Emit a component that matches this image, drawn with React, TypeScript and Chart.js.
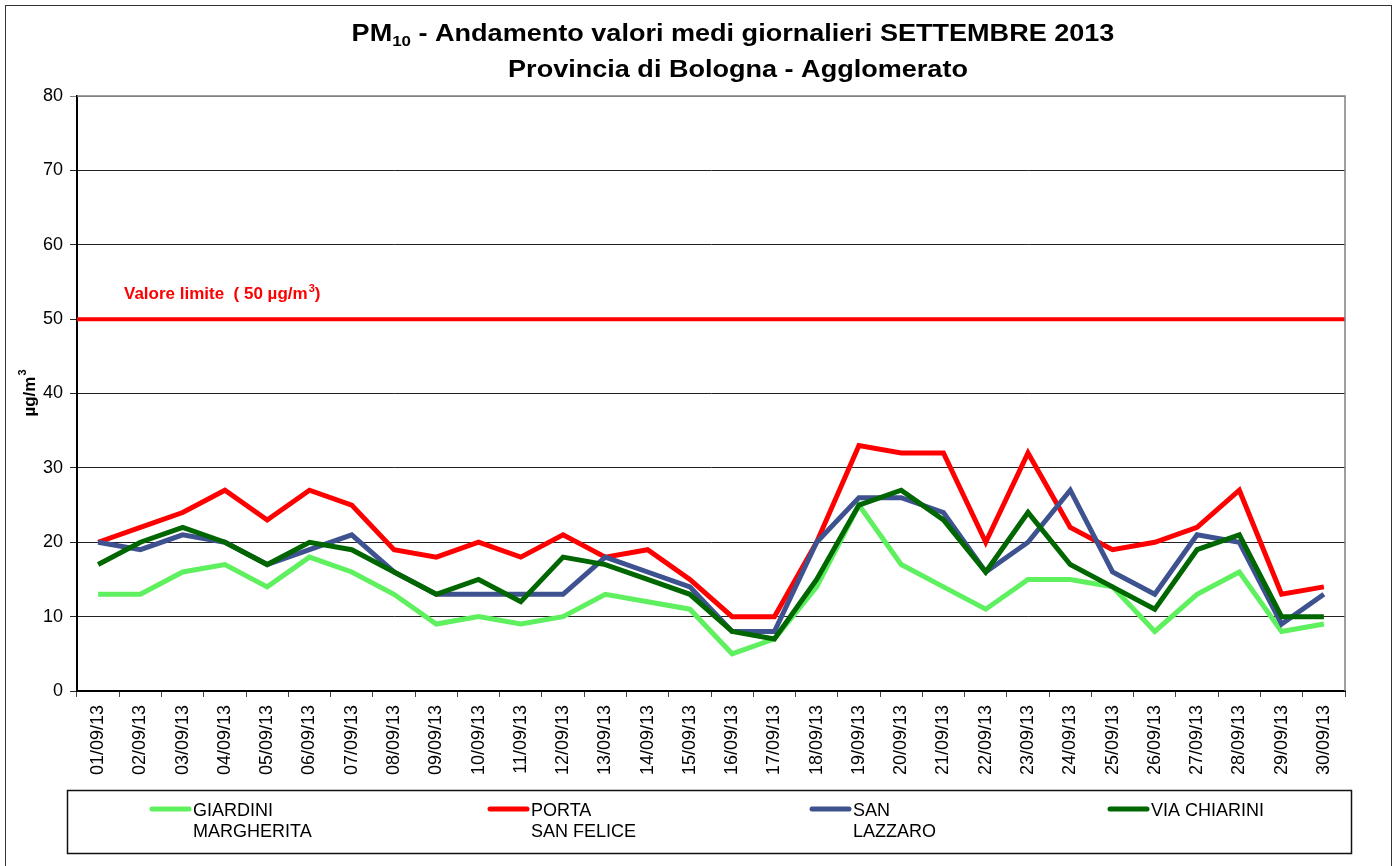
import React, { useEffect, useRef } from 'react';
import { Chart, registerables } from 'chart.js';

Chart.register(...registerables);

// ---------- DATA ----------
const DAYS = [
  '01/09/13', '02/09/13', '03/09/13', '04/09/13', '05/09/13', '06/09/13', '07/09/13', '08/09/13', '09/09/13', '10/09/13',
  '11/09/13', '12/09/13', '13/09/13', '14/09/13', '15/09/13', '16/09/13', '17/09/13', '18/09/13', '19/09/13', '20/09/13',
  '21/09/13', '22/09/13', '23/09/13', '24/09/13', '25/09/13', '26/09/13', '27/09/13', '28/09/13', '29/09/13', '30/09/13',
];
const GIARDINI_MARGHERITA = [13, 13, 16, 17, 14, 18, 16, 13, 9, 10, 9, 10, 13, 12, 11, 5, 7, 14, 25, 17, 14, 11, 15, 15, 14, 8, 13, 16, 8, 9];
const PORTA_SAN_FELICE = [20, 22, 24, 27, 23, 27, 25, 19, 18, 20, 18, 21, 18, 19, 15, 10, 10, 20, 33, 32, 32, 20, 32, 22, 19, 20, 22, 27, 13, 14];
const SAN_LAZZARO = [20, 19, 21, 20, 17, 19, 21, 16, 13, 13, 13, 13, 18, 16, 14, 8, 8, 20, 26, 26, 24, 16, 20, 27, 16, 13, 21, 20, 9, 13];
const VIA_CHIARINI = [17, 20, 22, 20, 17, 20, 19, 16, 13, 15, 12, 18, 17, 15, 13, 8, 7, 15, 25, 27, 23, 16, 24, 17, 14, 11, 19, 21, 10, 10];

const SERIES_LABELS = [['GIARDINI', 'MARGHERITA'], ['PORTA', 'SAN FELICE'], ['SAN', 'LAZZARO'], ['VIA CHIARINI']];
const SERIES_VALUES = [GIARDINI_MARGHERITA, PORTA_SAN_FELICE, SAN_LAZZARO, VIA_CHIARINI];
const SERIES_COLORS = ['#5EF05E', '#FF0000', '#3F5290', '#006600'];

const Y_MIN = 0;
const Y_MAX = 80;
const Y_STEP = 10;
const LIMIT_VALUE = 50;
const LIMIT_TEXT = 'Valore limite  ( 50 µg/m';
const TITLE_1_PREFIX = 'PM';
const TITLE_1_SUB = '10';
const TITLE_1_REST = ' - Andamento valori medi giornalieri SETTEMBRE 2013';
const TITLE_2 = 'Provincia di Bologna - Agglomerato';
const Y_TITLE = 'µg/m';

const FONT = '"Liberation Sans", Arial, Helvetica, sans-serif';

// legend column positions (layout)
const LEGEND_X = [150, 488, 810, 1108];
const TITLE_STRETCH = 1.127;

const decorPlugin = {
  id: 'decor',
  beforeDatasetsDraw(chart: any) {
    const ctx = chart.ctx;
    const { left, right } = chart.chartArea;
    const y = chart.scales.y.getPixelForValue(LIMIT_VALUE);
    ctx.save();
    ctx.strokeStyle = '#FF0000';
    ctx.lineWidth = 4;
    ctx.beginPath();
    ctx.moveTo(left, y);
    ctx.lineTo(right, y);
    ctx.stroke();
    // label
    ctx.fillStyle = '#FF0000';
    ctx.font = `bold 17px ${FONT}`;
    ctx.textBaseline = 'alphabetic';
    ctx.textAlign = 'left';
    const lx = 124;
    const ly = y - 20;
    ctx.fillText(LIMIT_TEXT, lx, ly);
    let w = ctx.measureText(LIMIT_TEXT).width;
    ctx.font = `bold 11px ${FONT}`;
    ctx.fillText('3', lx + w + 1, ly - 7);
    w += ctx.measureText('3').width + 1;
    ctx.font = `bold 17px ${FONT}`;
    ctx.fillText(')', lx + w, ly);
    ctx.restore();
  },
  afterDraw(chart: any) {
    const ctx = chart.ctx;
    const { left, right, top, bottom } = chart.chartArea;
    ctx.save();

    // outer border
    ctx.strokeStyle = '#333';
    ctx.lineWidth = 1;
    ctx.strokeRect(5.5, 5.5, 1386, 900);

    // plot top/right border
    ctx.strokeStyle = '#808080';
    ctx.lineWidth = 1.5;
    ctx.beginPath();
    ctx.moveTo(left, top);
    ctx.lineTo(right, top);
    ctx.lineTo(right, bottom);
    ctx.stroke();

    // title (slightly stretched horizontally like the original)
    ctx.fillStyle = '#000';
    ctx.textBaseline = 'alphabetic';
    ctx.textAlign = 'left';
    ctx.font = `bold 24px ${FONT}`;
    const wPre = ctx.measureText(TITLE_1_PREFIX).width;
    const wRest = ctx.measureText(TITLE_1_REST).width;
    const w2 = ctx.measureText(TITLE_2).width;
    ctx.font = `bold 15px ${FONT}`;
    const wSub = ctx.measureText(TITLE_1_SUB).width;
    const total = wPre + wSub + wRest;

    ctx.save();
    ctx.translate(733, 0);
    ctx.scale(TITLE_STRETCH, 1);
    let x = -total / 2;
    ctx.font = `bold 24px ${FONT}`;
    ctx.fillText(TITLE_1_PREFIX, x, 41);
    x += wPre;
    ctx.font = `bold 15px ${FONT}`;
    ctx.fillText(TITLE_1_SUB, x, 46);
    x += wSub;
    ctx.font = `bold 24px ${FONT}`;
    ctx.fillText(TITLE_1_REST, x, 41);
    ctx.restore();

    ctx.save();
    ctx.translate(738, 0);
    ctx.scale(TITLE_STRETCH, 1);
    ctx.font = `bold 24px ${FONT}`;
    ctx.fillText(TITLE_2, -w2 / 2, 77);
    ctx.restore();

    // y title
    ctx.save();
    ctx.translate(30, (top + bottom) / 2);
    ctx.rotate(-Math.PI / 2);
    ctx.font = `bold 17px ${FONT}`;
    const wy = ctx.measureText(Y_TITLE).width;
    ctx.font = `bold 11px ${FONT}`;
    const w3 = ctx.measureText('3').width;
    const sx = -(wy + w3) / 2;
    ctx.textAlign = 'left';
    ctx.textBaseline = 'middle';
    ctx.font = `bold 17px ${FONT}`;
    ctx.fillText(Y_TITLE, sx, 0);
    ctx.font = `bold 11px ${FONT}`;
    ctx.fillText('3', sx + wy + 1, -7);
    ctx.restore();

    // legend
    ctx.strokeStyle = '#111';
    ctx.lineWidth = 1.5;
    ctx.strokeRect(67.5, 790.5, 1284, 63);
    ctx.textAlign = 'left';
    ctx.textBaseline = 'middle';
    ctx.font = `18px ${FONT}`;
    chart.data.datasets.forEach((ds: any, i: number) => {
      const lx = LEGEND_X[i];
      ctx.strokeStyle = ds.borderColor;
      ctx.lineWidth = 5;
      ctx.lineCap = 'round';
      ctx.beginPath();
      ctx.moveTo(lx + 2, 809);
      ctx.lineTo(lx + 39, 809);
      ctx.stroke();
      ctx.fillStyle = '#000';
      SERIES_LABELS[i].forEach((line, k) => {
        ctx.fillText(line, lx + 43, 811 + k * 21);
      });
    });
    ctx.restore();
  },
};

export default function App() {
  const ref = useRef<HTMLCanvasElement | null>(null);

  useEffect(() => {
    document.body.style.margin = '0';
    const canvas = ref.current;
    if (!canvas) return;
    const chart = new Chart(canvas, {
      type: 'line',
      data: {
        labels: DAYS,
        datasets: SERIES_VALUES.map((vals, i) => ({
          label: SERIES_LABELS[i].join(' '),
          data: vals,
          borderColor: SERIES_COLORS[i],
          backgroundColor: SERIES_COLORS[i],
          borderWidth: 5,
          pointRadius: 0,
          pointHoverRadius: 0,
          tension: 0,
          fill: false,
          order: 4 - i,
        })),
      },
      options: {
        animation: false,
        responsive: false,
        devicePixelRatio: 1,
        layout: { padding: { left: 0, top: 96, right: 54, bottom: 75 } },
        plugins: {
          legend: { display: false },
          title: { display: false },
          tooltip: { enabled: false },
        },
        scales: {
          x: {
            type: 'category',
            offset: true,
            afterFit: (s: any) => { s.height = 100; },
            grid: {
              drawOnChartArea: false,
              offset: true,
              tickLength: 6,
              color: '#444',
            },
            border: { display: true, color: '#000', width: 2 },
            ticks: {
              autoSkip: false,
              minRotation: 90,
              maxRotation: 90,
              padding: 8,
              color: '#000',
              font: { family: FONT, size: 18 },
            },
          },
          y: {
            min: Y_MIN,
            max: Y_MAX,
            afterFit: (s: any) => { s.width = 77; },
            grid: {
              color: (c: any) => (c.tick && c.tick.value === Y_MAX ? '#808080' : '#222'),
              lineWidth: 1,
              tickLength: 7,
            },
            border: { display: true, color: '#000', width: 2 },
            ticks: {
              stepSize: Y_STEP,
              padding: 7,
              color: '#000',
              font: { family: FONT, size: 18 },
            },
          },
        },
      },
      plugins: [decorPlugin],
    } as any);
    return () => chart.destroy();
  }, []);

  return (
    <div style={{ width: 1399, height: 866, background: '#fff' }}>
      <canvas ref={ref} width={1399} height={866} style={{ display: 'block', width: 1399, height: 866 }} />
    </div>
  );
}
